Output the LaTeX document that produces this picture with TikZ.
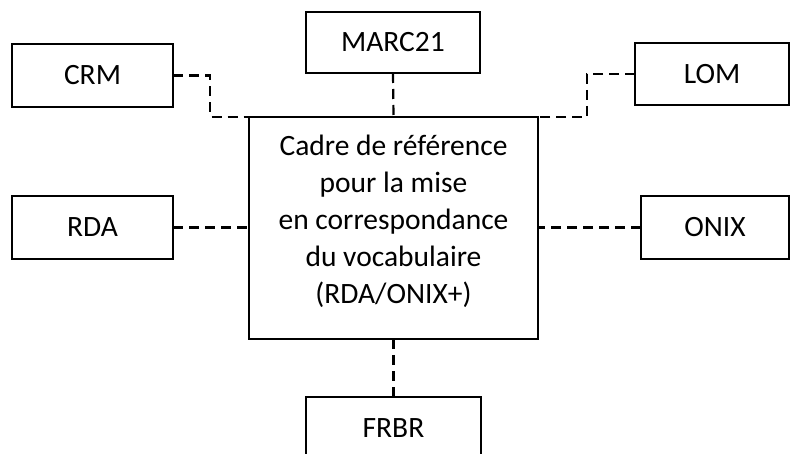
\documentclass[tikz,border=0pt]{standalone}
\usepackage{fontspec}
\setmainfont{Carlito}
\begin{document}
\begin{tikzpicture}[x=1pt,y=-1pt,
  box/.style={draw, line width=2.2pt, inner sep=0pt, outer sep=0pt,
    font=\fontsize{29.5}{37}\selectfont},
  link/.style={line width=2.2pt, dash pattern=on 10pt off 6pt}]
  \useasboundingbox (0,0) rectangle (790,454);
  \clip (0,0) rectangle (790,454);

  % outer standards
  \node[box, minimum width=161pt, minimum height=63pt] (crm)   at (92.5,75.5)  {CRM};
  \node[box, minimum width=174pt, minimum height=61pt] (marc)  at (393,42.5)   {MARC21};
  \node[box, minimum width=154pt, minimum height=62pt] (lom)   at (712,74)     {LOM};
  \node[box, minimum width=161pt, minimum height=63pt] (rda)   at (92.5,227.5) {RDA};
  \node[box, minimum width=148pt, minimum height=63pt] (onix)  at (715,227.5)  {ONIX};
  \node[box, minimum width=175pt, minimum height=62pt] (frbr)  at (393.5,428)  {FRBR};

  % central mapping framework
  \node[box, minimum width=289pt, minimum height=222pt] (core) at (393.5,228) {};
  \node[font=\fontsize{29.5}{37}\selectfont, align=center, inner sep=0pt] (coretext)
    at (393.5,221) {Cadre de référence\\pour la mise\\en correspondance\\du vocabulaire\\(RDA/ONIX+)};

  % knees of the elbow connectors
  \coordinate (crmknee) at (210,117);
  \coordinate (lomknee) at (587,117);

  % connectors
  \draw[link] (crm.east) -| (crmknee) -- (core.north west);
  \draw[link] (lom.west) -| (lomknee) -- (core.north east);
  \draw[link] (marc.south) -- (core.north);
  \draw[link] (rda.east) -- (rda.east -| core.west);
  \draw[link] (onix.west) -- (onix.west -| core.east);
  \draw[link] (core.south) -- (frbr.north);
\end{tikzpicture}
\end{document}
